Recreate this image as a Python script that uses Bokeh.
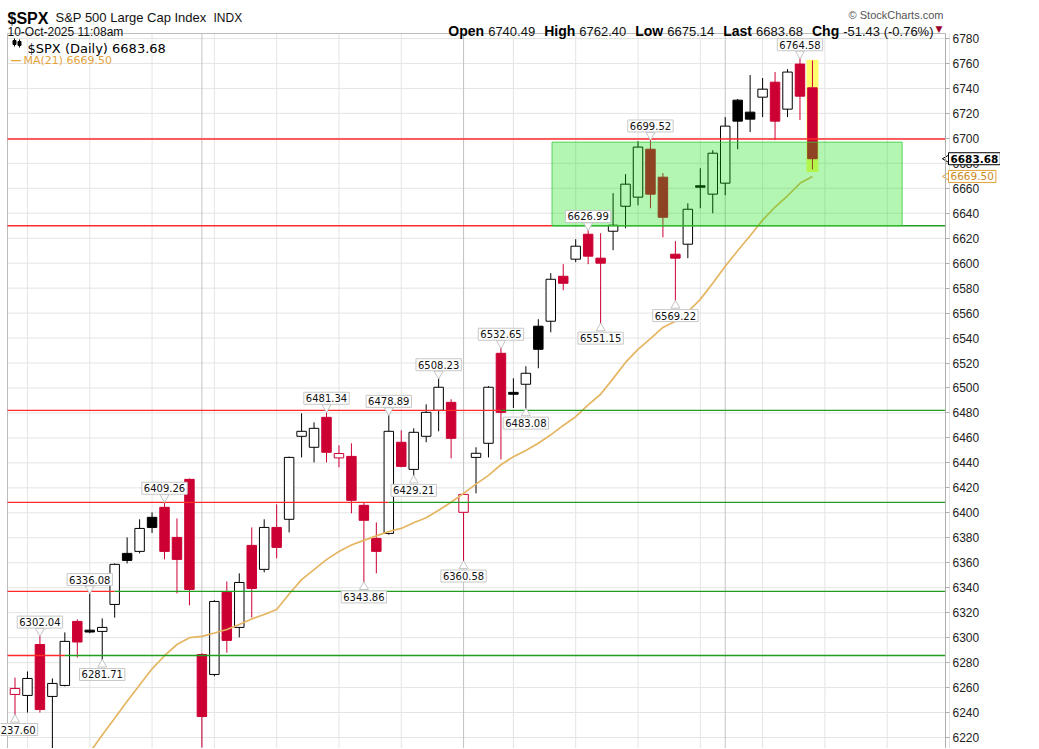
import math
import pandas as pd
from bokeh.plotting import figure
from bokeh.models import Label, Range1d, FixedTicker, ColumnDataSource
from bokeh.embed import file_html
from bokeh.resources import INLINE

# ---------------- data ----------------
first_day = "2025-07-11"
holidays = ["2025-09-01"]
prior_close = 6280.0

opens = [6254.5, 6253.7, 6294.5, 6252.9, 6261.7, 6313.0, 6306.0, 6305.0, 6326.6, 6367.5,
         6369.1, 6396.4, 6404.4, 6380.3, 6426.8, 6286.5, 6270.5, 6336.2, 6308.2, 6373.9,
         6354.7, 6388.3, 6394.8, 6461.3, 6452.5, 6476.5, 6444.0, 6445.2, 6406.0, 6379.5,
         6383.5, 6456.5, 6434.8, 6461.3, 6482.1, 6488.5, 6400.4, 6444.4, 6455.7, 6527.8,
         6496.5, 6503.0, 6549.5, 6553.5, 6589.5, 6603.2, 6623.2, 6604.0, 6625.6, 6645.6,
         6652.9, 6691.3, 6668.9, 6607.2, 6615.2, 6662.0, 6655.3, 6664.1, 6730.6, 6721.0,
         6733.0, 6745.0, 6723.4, 6759.5, 6740.49]
highs = [6268.0, 6272.9, 6302.04, 6267.3, 6304.2, 6314.6, 6336.08, 6315.4, 6359.5, 6380.3,
         6394.8, 6400.4, 6409.26, 6395.5, 6427.5, 6287.5, 6330.0, 6345.0, 6351.5, 6388.3,
         6394.8, 6406.8, 6445.0, 6479.7, 6472.5, 6481.34, 6454.1, 6455.7, 6408.0, 6392.3,
         6478.89, 6466.1, 6467.7, 6486.9, 6508.23, 6491.0, 6414.8, 6452.5, 6501.5, 6532.65,
         6507.8, 6517.4, 6555.1, 6592.0, 6599.2, 6619.2, 6626.99, 6624.0, 6656.1, 6671.3,
         6697.8, 6699.52, 6672.1, 6617.6, 6648.0, 6676.1, 6690.5, 6717.0, 6731.5, 6750.7,
         6748.3, 6753.1, 6755.5, 6764.58, 6762.40]
lows = [6237.60, 6240.0, 6240.0, 6202.0, 6260.9, 6284.1, 6303.5, 6281.71, 6316.0, 6359.5,
        6367.5, 6383.9, 6362.7, 6335.4, 6325.8, 6212.0, 6269.0, 6288.0, 6300.2, 6316.2,
        6352.3, 6363.5, 6384.3, 6444.4, 6440.4, 6440.4, 6436.4, 6399.6, 6343.86, 6351.5,
        6382.5, 6436.4, 6429.21, 6456.5, 6465.3, 6443.6, 6360.58, 6415.6, 6444.4, 6442.8,
        6484.0, 6483.08, 6515.8, 6544.6, 6578.3, 6600.8, 6599.2, 6551.15, 6610.4, 6628.0,
        6646.4, 6644.0, 6620.8, 6569.22, 6604.0, 6644.0, 6640.0, 6654.5, 6691.3, 6705.0,
        6717.0, 6698.6, 6717.0, 6714.6, 6675.14]
closes = [6259.3, 6267.3, 6242.4, 6263.3, 6297.0, 6296.5, 6304.5, 6308.2, 6358.7, 6361.9,
          6387.5, 6388.3, 6369.1, 6362.7, 6338.6, 6236.8, 6329.0, 6297.8, 6344.2, 6339.4,
          6388.3, 6372.3, 6444.4, 6465.3, 6467.7, 6448.5, 6447.5, 6410.0, 6394.0, 6369.1,
          6465.3, 6437.2, 6464.5, 6480.5, 6500.6, 6459.7, 6414.8, 6447.7, 6500.6, 6480.5,
          6495.0, 6511.8, 6531.0, 6587.1, 6583.9, 6613.6, 6605.6, 6600.0, 6630.4, 6663.3,
          6693.0, 6655.3, 6636.8, 6604.0, 6643.2, 6660.9, 6688.1, 6709.8, 6713.8, 6715.4,
          6739.4, 6713.8, 6753.1, 6733.8, 6683.68]

ma_start = 5
ma21 = [6195.0, 6208.0, 6222.0, 6235.5, 6249.0, 6262.0, 6275.0, 6285.5, 6294.5, 6300.0,
        6301.0, 6303.7, 6306.5, 6310.5, 6315.0, 6318.5, 6322.5, 6335.0, 6346.5, 6354.5,
        6362.5, 6369.0, 6374.2, 6377.9, 6381.5, 6385.0, 6387.5, 6392.0, 6396.0, 6402.0,
        6408.5, 6415.6, 6423.0, 6430.0, 6438.5, 6445.0, 6450.0, 6455.8, 6462.5, 6470.0,
        6477.0, 6486.5, 6495.0, 6507.5, 6520.5, 6531.0, 6539.5, 6548.5, 6553.5, 6561.0,
        6571.0, 6584.0, 6597.5, 6610.0, 6622.0, 6634.5, 6645.0, 6654.0, 6664.0, 6669.5]

# callouts: candle index and whether it marks the high or the low
callout_idx = [0, 2, 6, 7, 12, 25, 28, 30, 32, 34, 36, 39, 41, 46, 47, 51, 53, 63]
callout_kind = ["L", "H", "H", "L", "H", "H", "L", "H", "L", "H", "L", "H", "L", "H", "L", "H", "L", "H"]

# horizontal support / resistance levels; red up to switch index, green afterwards
levels = [6699.5, 6630.0, 6482.1, 6408.4, 6337.0, 6285.7]
switch_idx = [None, 43.1, 39.0, 30.0, 8.0, 4.0]

# highlighted zone
zone_left, zone_right = 43.1, 71.2
zone_bottom, zone_top = 6630.0, 6697.0

y_ticks = list(range(6220, 6781, 20))

header_open, header_high, header_low, header_last = 6740.49, 6762.40, 6675.14, 6683.68
header_chg, header_pct = -51.43, -0.76

# ---------------- layout ----------------
# the frame covers the whole canvas; the visible chart box runs from (7, 33) to the axis at x=945
FW, FH = 1000, 748
PX = 12.46           # pixels per bar
PY = 1.24821         # pixels per index point
X0 = -14.5 / PX
X1 = X0 + FW / PX
Y1 = 6780 + 38 / PY
Y0 = Y1 - FH / PY


def dx(px):  # canvas x -> data x
    return X0 + px / PX


def dy(py):  # canvas y -> data y
    return Y1 - py / PY


BOX_L = dx(7)
BOX_T = dy(33)
AX = dx(945)

RED = "#cc0033"
n = len(closes)
days = pd.bdate_range(first_day, "2025-10-31")
days = days[~days.isin(pd.to_datetime(holidays))]
week_idx = [i for i in range(1, len(days)) if days[i].weekday() < days[i - 1].weekday()]
month_idx = [i for i in range(1, len(days)) if days[i].month != days[i - 1].month]

prev = [prior_close] + closes[:-1]
cols, fills, tops, bots = [], [], [], []
for o, c, pc in zip(opens, closes, prev):
    col = "#000000" if c >= pc else RED
    cols.append(col)
    fills.append("#ffffff" if c >= o else col)
    tops.append(max(o, c))
    bots.append(min(o, c))

src = ColumnDataSource(dict(x=list(range(n)), high=highs, low=lows, top=tops, bot=bots,
                            col=cols, fill=fills))

p = figure(frame_width=FW, frame_height=FH, x_range=Range1d(X0, X1), y_range=Range1d(Y0, Y1),
           y_axis_location="right", x_axis_location=None, output_backend="svg",
           toolbar_location=None, min_border_left=0, min_border_right=0,
           min_border_top=0, min_border_bottom=0, background_fill_color="white",
           border_fill_color="white", outline_line_color=None)
p.xgrid.grid_line_color = None
p.ygrid.grid_line_color = None
p.yaxis.ticker = FixedTicker(ticks=y_ticks)
p.yaxis.fixed_location = AX
p.yaxis.bounds = (Y0, BOX_T)
p.yaxis.axis_line_color = "#b0b0b0"
p.yaxis.major_tick_line_color = "#b0b0b0"
p.yaxis.major_tick_out = 4
p.yaxis.major_tick_in = 0
p.yaxis.minor_tick_line_color = None
p.yaxis.major_label_standoff = 3
p.yaxis.major_label_text_font = "Liberation Sans"
p.yaxis.major_label_text_font_size = "12px"
p.yaxis.major_label_text_color = "#222222"

# grid lines (inside the chart box only)
p.segment(x0=[BOX_L] * len(y_ticks), y0=y_ticks, x1=[AX] * len(y_ticks), y1=y_ticks,
          line_color="#e4e4e4", line_width=1)
p.segment(x0=week_idx, y0=[Y0] * len(week_idx), x1=week_idx, y1=[BOX_T] * len(week_idx),
          line_color="#e4e4e4", line_width=1)
p.segment(x0=month_idx, y0=[Y0] * len(month_idx), x1=month_idx, y1=[BOX_T] * len(month_idx),
          line_color="#c4c4c4", line_width=1)
# chart box border (left and top)
p.segment(x0=[BOX_L, BOX_L], y0=[Y0, BOX_T], x1=[BOX_L, AX], y1=[BOX_T, BOX_T],
          line_color="#bdbdbd", line_width=1)

# highlight of the latest bar
last = n - 1
p.quad(left=last - 0.48, right=last + 0.48, bottom=lows[last] - 2.0, top=highs[last] + 0.5,
       fill_color="#ffff55", fill_alpha=0.85, line_color=None)

# candles
p.segment(x0="x", y0="low", x1="x", y1="high", line_color="col", line_width=1, source=src)
p.vbar(x="x", width=0.76, top="top", bottom="bot", fill_color="fill", line_color="col",
       line_width=1, source=src)

# moving average
p.line(x=list(range(ma_start, n)), y=ma21, line_color="#e5b562", line_width=1.7)

# support / resistance lines
for lv, sw in zip(levels, switch_idx):
    if sw is None:
        p.segment(x0=[BOX_L], y0=[lv], x1=[AX], y1=[lv], line_color="#ff2a2a", line_width=1.3)
    else:
        p.segment(x0=[BOX_L], y0=[lv], x1=[sw], y1=[lv], line_color="#ff2a2a", line_width=1.3)
        p.segment(x0=[sw], y0=[lv], x1=[AX], y1=[lv], line_color="#1f9e1f", line_width=1.3)

# green zone on top
p.quad(left=zone_left, right=zone_right, bottom=zone_bottom, top=zone_top,
       fill_color="#00e000", fill_alpha=0.3, line_color="#3cc83c", line_alpha=0.8, line_width=1)

# callouts
for i, k in zip(callout_idx, callout_kind):
    if k == "H":
        v = highs[i]
        p.scatter([i], [v + 4.0 / PY], marker="inverted_triangle", size=9,
                  fill_color="white", line_color="#c4c4c4")
        p.add_layout(Label(x=i, y=v + 7.0 / PY, text=f"{v:.2f}", text_align="center",
                           text_baseline="bottom", text_font="DejaVu Sans", text_font_size="10px",
                           text_color="#111111", background_fill_color="white",
                           border_line_color="#c8c8c8", padding=2))
    else:
        v = lows[i]
        p.scatter([i], [v - 4.0 / PY], marker="triangle", size=9,
                  fill_color="white", line_color="#c4c4c4")
        p.add_layout(Label(x=i, y=v - 8.0 / PY, text=f"{v:.2f}", text_align="center",
                           text_baseline="top", text_font="DejaVu Sans", text_font_size="10px",
                           text_color="#111111", background_fill_color="white",
                           border_line_color="#c8c8c8", padding=2))


def lab(px, py, text, size, color="#000000", bold=False, font="Liberation Sans",
        align="left", baseline="alphabetic", **kw):
    p.add_layout(Label(x=dx(px), y=dy(py), text=text, text_font=font,
                       text_font_size=size, text_color=color,
                       text_font_style="bold" if bold else "normal",
                       text_align=align, text_baseline=baseline, **kw))


# legend inside chart
lab(27, 48, f"$SPX (Daily) {closes[-1]:.2f}", "13px", font="DejaVu Sans")
lab(10, 60, "\u2014", "11px", color="#e3a33b", bold=True, font="DejaVu Sans")
lab(23, 60, f"MA(21) {ma21[-1]:.2f}", "11px", color="#e3a33b", font="DejaVu Sans")
# small candlestick icon in front of the legend text
p.segment(x0=[dx(14), dx(19)], y0=[dy(46), dy(47)], x1=[dx(14), dx(19)], y1=[dy(38), dy(39)],
          line_color="#000000", line_width=1)
p.quad(left=[dx(12.5), dx(17.5)], right=[dx(15.5), dx(20.5)], bottom=[dy(44), dy(45)],
       top=[dy(40), dy(41)], fill_color="#000000", line_color="#000000")

# right axis value boxes with pointers
p.scatter([dx(946.5), dx(946.5)], [closes[-1], ma21[-1]], marker="triangle",
          angle=math.pi / 2, size=8, fill_color="white",
          line_color=["#000000", "#e3a33b"])
p.add_layout(Label(x=dx(948), y=closes[-1], text=f"{closes[-1]:.2f}",
                   text_align="left", text_baseline="middle", text_font="DejaVu Sans",
                   text_font_size="10.5px", text_font_style="bold", text_color="#000000",
                   background_fill_color="white", border_line_color="#000000", padding=2))
p.add_layout(Label(x=dx(948), y=ma21[-1], text=f"{ma21[-1]:.2f}",
                   text_align="left", text_baseline="middle", text_font="DejaVu Sans",
                   text_font_size="10.5px", text_color="#c98a1c", background_fill_color="white",
                   border_line_color="#e3a33b", padding=2))

# header
lab(7, 17.5, "$SPX", "16px", bold=True)
lab(55, 17, "S&P 500 Large Cap Index", "13px", color="#111111")
lab(213, 17, "INDX", "12px", color="#111111")
lab(7, 31, "10-Oct-2025 11:08am", "12px", color="#111111")
lab(943, 14, "\u00a9 StockCharts.com", "11px", color="#555555", align="right")

AR = {"0": .556, "1": .556, "2": .556, "3": .556, "4": .556, "5": .556, "6": .556, "7": .556,
      "8": .556, "9": .556, ".": .278, "-": .333, "(": .333, ")": .333, "%": .889, " ": .278}
AB = {"O": .778, "p": .611, "e": .556, "n": .611, "H": .722, "i": .278, "g": .611, "h": .611,
      "L": .611, "o": .611, "w": .778, "a": .556, "s": .556, "t": .333, "C": .722}
pairs = [("Open", f"{header_open:.2f}"), ("High", f"{header_high:.2f}"),
         ("Low", f"{header_low:.2f}"), ("Last", f"{header_last:.2f}"),
         ("Chg", f"{header_chg:.2f} ({header_pct:.2f}%)")]
BS, RS, GAP = 14, 13, 9
widths = [(sum(AB[c] for c in k) * BS, sum(AR[c] for c in v) * RS) for k, v in pairs]
total = sum(a + 4 + b for a, b in widths) + GAP * (len(pairs) - 1)
xcur = 933 - total
for (k, v), (wk, wv) in zip(pairs, widths):
    lab(xcur, 30.5, k, f"{BS}px", bold=True)
    lab(xcur + wk + 4, 30.5, v, f"{RS}px", color="#111111")
    xcur += wk + 4 + wv + GAP
lab(935, 28.5, "\u25bc", "9px", color="#99002b", font="DejaVu Sans")

open("out.html", "w").write(file_html(p, INLINE))
